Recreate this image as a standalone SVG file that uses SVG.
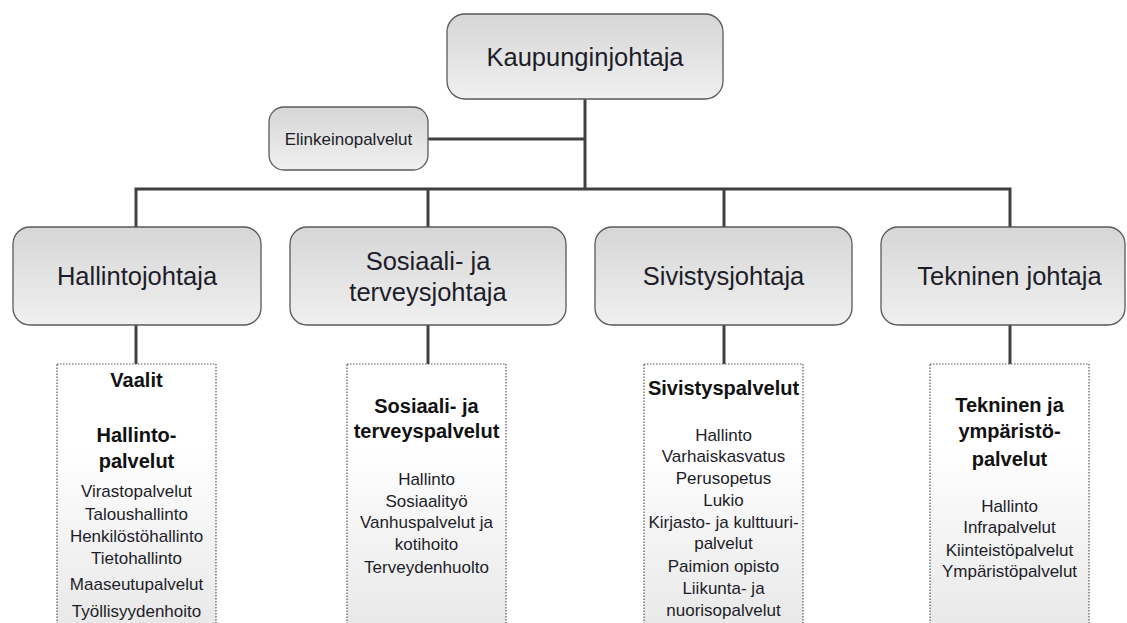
<svg xmlns="http://www.w3.org/2000/svg" width="1127" height="623" viewBox="0 0 1127 623">
  <defs>
    <linearGradient id="nodeGrad" x1="0" y1="0" x2="0" y2="1">
      <stop offset="0" stop-color="#d6d6d6"/>
      <stop offset="1" stop-color="#f0f0f0"/>
    </linearGradient>
    <linearGradient id="listGrad" x1="0" y1="0" x2="0" y2="1">
      <stop offset="0" stop-color="#ffffff"/>
      <stop offset="0.3" stop-color="#ffffff"/>
      <stop offset="1" stop-color="#e6e6e6"/>
    </linearGradient>
  </defs>
  <style>
    .node { fill: url(#nodeGrad); stroke: #5a5a5a; stroke-width: 1.3; }
    .list { fill: url(#listGrad); stroke: #555555; stroke-width: 1.2; stroke-dasharray: 1.5 1.5; }
    .conn { stroke: #404040; stroke-width: 3; fill: none; }
    text { font-family: "Liberation Sans", Arial, sans-serif; fill: #1d1d29; text-anchor: middle; }
    .big { font-size: 25.5px; }
    .small { font-size: 17px; }
    .head { font-size: 20px; font-weight: bold; fill: #111111; }
    .item { font-size: 17px; }
  </style>
  <rect width="1127" height="623" fill="#ffffff"/>

  <g id="connectors">
    <line class="conn" x1="585" y1="99" x2="585" y2="190"/>
    <line class="conn" x1="428" y1="139" x2="585" y2="139"/>
    <polyline class="conn" points="136,227 136,189 1010,189 1010,227"/>
    <line class="conn" x1="428" y1="189" x2="428" y2="227"/>
    <line class="conn" x1="724" y1="189" x2="724" y2="227"/>
    <line class="conn" x1="136" y1="325" x2="136" y2="364"/>
    <line class="conn" x1="428" y1="325" x2="428" y2="364"/>
    <line class="conn" x1="724" y1="325" x2="724" y2="364"/>
    <line class="conn" x1="1010" y1="325" x2="1010" y2="364"/>
  </g>

  <g id="kaupunginjohtaja">
    <rect class="node" x="447" y="14" width="276" height="85" rx="18"/>
    <text class="big" x="585" y="65.5">Kaupunginjohtaja</text>
  </g>

  <g id="elinkeinopalvelut">
    <rect class="node" x="269" y="107" width="159" height="63" rx="15"/>
    <text class="small" x="348.5" y="145">Elinkeinopalvelut</text>
  </g>

  <g id="hallintojohtaja">
    <rect class="node" x="13" y="227" width="248" height="98" rx="17"/>
    <text class="big" x="137" y="285">Hallintojohtaja</text>
  </g>

  <g id="sosiaalijohtaja">
    <rect class="node" x="290" y="227" width="276" height="98" rx="17"/>
    <text class="big" x="428" y="270">Sosiaali- ja</text>
    <text class="big" x="428" y="301">terveysjohtaja</text>
  </g>

  <g id="sivistysjohtaja">
    <rect class="node" x="595" y="227" width="257" height="98" rx="17"/>
    <text class="big" x="723.5" y="285">Sivistysjohtaja</text>
  </g>

  <g id="tekninenjohtaja">
    <rect class="node" x="881" y="227" width="244" height="98" rx="17"/>
    <text class="big" x="1009.5" y="285">Tekninen johtaja</text>
  </g>

  <g id="hallintopalvelut">
    <rect class="list" x="57" y="364" width="159" height="280"/>
    <text class="head" x="136.5" y="387">Vaalit</text>
    <text class="head" x="136.5" y="442">Hallinto-</text>
    <text class="head" x="136.5" y="468">palvelut</text>
    <text class="item" x="136.5" y="497">Virastopalvelut</text>
    <text class="item" x="136.5" y="520">Taloushallinto</text>
    <text class="item" x="136.5" y="542">Henkilöstöhallinto</text>
    <text class="item" x="136.5" y="564">Tietohallinto</text>
    <text class="item" x="136.5" y="590">Maaseutupalvelut</text>
    <text class="item" x="136.5" y="617">Työllisyydenhoito</text>
  </g>

  <g id="sosiaalipalvelut">
    <rect class="list" x="347" y="364" width="159" height="280"/>
    <text class="head" x="426.5" y="413">Sosiaali- ja</text>
    <text class="head" x="426.5" y="438">terveyspalvelut</text>
    <text class="item" x="426.5" y="485">Hallinto</text>
    <text class="item" x="426.5" y="507">Sosiaalityö</text>
    <text class="item" x="426.5" y="528">Vanhuspalvelut ja</text>
    <text class="item" x="426.5" y="550">kotihoito</text>
    <text class="item" x="426.5" y="573">Terveydenhuolto</text>
  </g>

  <g id="sivistyspalvelut">
    <rect class="list" x="644" y="364" width="159" height="280"/>
    <text class="head" x="723.5" y="395">Sivistyspalvelut</text>
    <text class="item" x="723.5" y="441">Hallinto</text>
    <text class="item" x="723.5" y="462">Varhaiskasvatus</text>
    <text class="item" x="723.5" y="484">Perusopetus</text>
    <text class="item" x="723.5" y="506">Lukio</text>
    <text class="item" x="723.5" y="528">Kirjasto- ja kulttuuri-</text>
    <text class="item" x="723.5" y="549">palvelut</text>
    <text class="item" x="723.5" y="572">Paimion opisto</text>
    <text class="item" x="723.5" y="594">Liikunta- ja</text>
    <text class="item" x="723.5" y="616">nuorisopalvelut</text>
  </g>

  <g id="tekninenpalvelut">
    <rect class="list" x="930" y="364" width="159" height="280"/>
    <text class="head" x="1009.5" y="412">Tekninen ja</text>
    <text class="head" x="1009.5" y="438">ympäristö-</text>
    <text class="head" x="1009.5" y="466">palvelut</text>
    <text class="item" x="1009.5" y="512">Hallinto</text>
    <text class="item" x="1009.5" y="533">Infrapalvelut</text>
    <text class="item" x="1009.5" y="556">Kiinteistöpalvelut</text>
    <text class="item" x="1009.5" y="577">Ympäristöpalvelut</text>
  </g>
</svg>
